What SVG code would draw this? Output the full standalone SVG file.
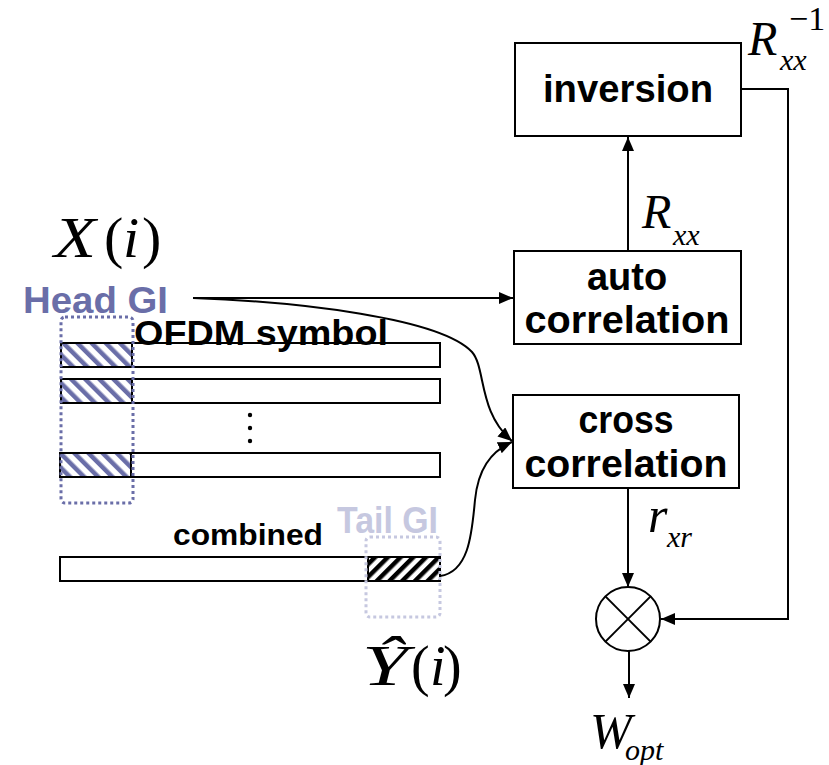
<svg xmlns="http://www.w3.org/2000/svg" width="829" height="765" viewBox="0 0 829 765">
<style>
.box{fill:#fff;stroke:#000;stroke-width:2}
.bar{fill:#fff;stroke:#000;stroke-width:2}
.lbl{font-family:"Liberation Sans",Arial,sans-serif;font-weight:bold;fill:#000}
.math{font-family:"Liberation Serif","Times New Roman",serif;font-style:italic;fill:#000}
.up{font-style:normal}
.wire{fill:none;stroke:#000;stroke-width:2}
</style>
<defs>
<marker id="ah" viewBox="0 0 14 12" refX="14" refY="6" markerWidth="14" markerHeight="12" markerUnits="userSpaceOnUse" orient="auto">
<path d="M0,0 L14,6 L0,12 Z" fill="#000"/>
</marker>
<pattern id="hatchBlue" patternUnits="userSpaceOnUse" width="10" height="10" patternTransform="rotate(-45)">
<rect width="10" height="10" fill="#fff"/>
<rect width="4.5" height="10" fill="#6a6ea8"/>
</pattern>
<pattern id="hatchBlack" patternUnits="userSpaceOnUse" width="9" height="9" patternTransform="rotate(45)">
<rect width="9" height="9" fill="#fff"/>
<rect width="4.5" height="9" fill="#000"/>
</pattern>
</defs>
<rect width="829" height="765" fill="#fff"/>

<g id="connectors">
<line class="wire" x1="193" y1="298" x2="513" y2="298" marker-end="url(#ah)"/>
<path class="wire" d="M193 298 C300 302, 440 318, 472 352 C486 368, 478 412, 512 441" marker-end="url(#ah)"/>
<path class="wire" d="M440 576 C470 572, 472 530, 475 500 C478 470, 490 452, 512 442" marker-end="url(#ah)"/>
<line class="wire" x1="628" y1="251" x2="628" y2="137" marker-end="url(#ah)"/>
<polyline class="wire" points="741,89 788,89 788,619 661,619" marker-end="url(#ah)"/>
<line class="wire" x1="628" y1="489" x2="628" y2="587" marker-end="url(#ah)"/>
<line class="wire" x1="629" y1="651" x2="629" y2="698" marker-end="url(#ah)"/>
</g>

<g id="inversion">
<rect class="box" x="515" y="43" width="226" height="93"/>
<text class="lbl" x="628" y="102" font-size="38" text-anchor="middle" textLength="170" lengthAdjust="spacingAndGlyphs">inversion</text>
</g>
<g id="auto-correlation">
<rect class="box" x="514" y="251" width="227" height="93"/>
<text class="lbl" x="627" y="290" font-size="38" text-anchor="middle">auto</text>
<text class="lbl" x="627" y="333" font-size="38" text-anchor="middle" textLength="205" lengthAdjust="spacingAndGlyphs">correlation</text>
</g>
<g id="cross-correlation">
<rect class="box" x="513" y="395" width="226" height="93"/>
<text class="lbl" x="626" y="433" font-size="38" text-anchor="middle" textLength="95" lengthAdjust="spacingAndGlyphs">cross</text>
<text class="lbl" x="626" y="477" font-size="38" text-anchor="middle" textLength="203" lengthAdjust="spacingAndGlyphs">correlation</text>
</g>
<g id="multiplier">
<circle cx="628" cy="619" r="32" fill="#fff" stroke="#000" stroke-width="2"/>
<line x1="605.4" y1="596.4" x2="650.6" y2="641.6" stroke="#000" stroke-width="2"/>
<line x1="650.6" y1="596.4" x2="605.4" y2="641.6" stroke="#000" stroke-width="2"/>
</g>

<g id="symbols">
<rect class="bar" x="61" y="343" width="379" height="24"/>
<rect x="61" y="343" width="71" height="24" fill="url(#hatchBlue)" stroke="#000" stroke-width="2"/>
<rect class="bar" x="61" y="379" width="379" height="24"/>
<rect x="61" y="379" width="71" height="24" fill="url(#hatchBlue)" stroke="#000" stroke-width="2"/>
<rect class="bar" x="60" y="453" width="380" height="24"/>
<rect x="60" y="453" width="71" height="24" fill="url(#hatchBlue)" stroke="#000" stroke-width="2"/>
<circle cx="250" cy="415" r="2.2" fill="#000"/>
<circle cx="250" cy="428" r="2.2" fill="#000"/>
<circle cx="250" cy="441" r="2.2" fill="#000"/>
<text class="lbl" x="134" y="345" font-size="35" textLength="254" lengthAdjust="spacingAndGlyphs">OFDM symbol</text>
</g>
<g id="head-gi">
<rect x="61" y="317" width="72" height="186" rx="4" fill="none" stroke="#6a6ea8" stroke-width="3" stroke-dasharray="3,3"/>
<text class="lbl" x="23" y="313" font-size="36" style="fill:#6a6ea8" textLength="145" lengthAdjust="spacingAndGlyphs">Head GI</text>
</g>
<g id="combined">
<rect class="bar" x="60" y="557" width="380" height="24"/>
<rect x="368" y="557" width="72" height="24" fill="url(#hatchBlack)" stroke="#000" stroke-width="2"/>
<text class="lbl" x="173" y="545" font-size="30" textLength="150" lengthAdjust="spacingAndGlyphs">combined</text>
</g>
<g id="tail-gi">
<rect x="366" y="537" width="74" height="80" rx="4" fill="none" stroke="#c6c8e0" stroke-width="3" stroke-dasharray="3,3"/>
<text class="lbl" x="337" y="533" font-size="36" style="fill:#c6c8e0" textLength="101" lengthAdjust="spacingAndGlyphs">Tail GI</text>
</g>

<g id="labels">
<text class="math" y="257" font-size="58"><tspan x="54" textLength="42" lengthAdjust="spacingAndGlyphs">X</tspan><tspan class="up" x="104">(</tspan><tspan x="123">i</tspan><tspan class="up" x="142">)</tspan></text>

<text class="math" y="685" font-size="56"><tspan x="362" textLength="46" lengthAdjust="spacingAndGlyphs">Ŷ</tspan><tspan class="up" x="411">(</tspan><tspan x="430">i</tspan><tspan class="up" x="443">)</tspan></text>

<text class="math" x="748" y="55" font-size="48">R</text>
<text class="math" x="780" y="70" font-size="30">xx</text>
<text class="math up" x="789" y="30" font-size="34">−1</text>

<text class="math" x="642" y="228" font-size="48">R</text>
<text class="math" x="673" y="245" font-size="30">xx</text>

<text class="math" x="648" y="532" font-size="50">r</text>
<text class="math" x="667" y="547" font-size="30">xr</text>

<text class="math" x="590" y="748" font-size="50">W</text>
<text class="math" x="625" y="760" font-size="30">opt</text>
</g>
</svg>
